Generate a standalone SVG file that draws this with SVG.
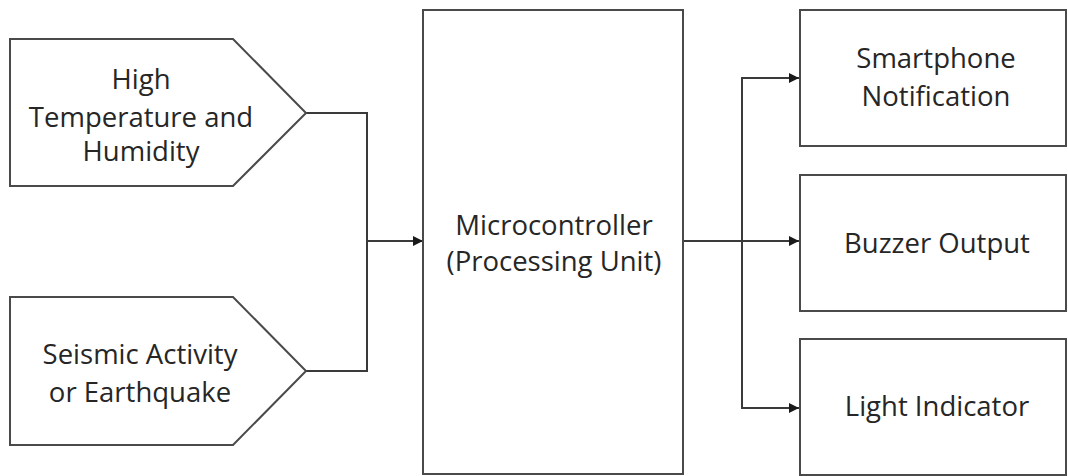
<svg xmlns="http://www.w3.org/2000/svg" width="1068" height="476" viewBox="0 0 1068 476">
  <style>
    .shape { fill: #ffffff; stroke: #4a4a4a; stroke-width: 2; }
    .wire { fill: none; stroke: #3a3a3a; stroke-width: 2; }
    .label { font-family: "Open Sans", "Liberation Sans", sans-serif; font-size: 27.5px; fill: #262626; text-anchor: middle; }
  </style>
  <defs>
    <marker id="arrow" viewBox="0 0 10 10" refX="10" refY="5" markerWidth="5" markerHeight="5" orient="auto" markerUnits="strokeWidth">
      <path d="M0,0 L10,5 L0,10 z" fill="#1a1a1a"/>
    </marker>
  </defs>
  <rect width="1068" height="476" fill="#ffffff"/>

  <g id="connectors">
    <polyline class="wire" points="306,113 367,113 367,371 306,371"/>
    <line class="wire" x1="367" y1="241" x2="423" y2="241" marker-end="url(#arrow)"/>
    <line class="wire" x1="683" y1="241" x2="799" y2="241" marker-end="url(#arrow)"/>
    <polyline class="wire" points="799,78 742,78 742,408 799,408"/>
    <line class="wire" x1="742" y1="78" x2="799" y2="78" marker-end="url(#arrow)"/>
    <line class="wire" x1="742" y1="408" x2="799" y2="408" marker-end="url(#arrow)"/>
  </g>

  <g id="input-temperature">
    <polygon class="shape" points="10,39 233,39 306,113 233,186 10,186"/>
    <text class="label" x="141" y="89">High</text>
    <text class="label" x="141" y="127">Temperature and</text>
    <text class="label" x="141" y="161">Humidity</text>
  </g>

  <g id="input-seismic">
    <polygon class="shape" points="10,297 233,297 306,371 233,445 10,445"/>
    <text class="label" x="140" y="364">Seismic Activity</text>
    <text class="label" x="140" y="402">or Earthquake</text>
  </g>

  <g id="microcontroller">
    <rect class="shape" x="423" y="10" width="260" height="464"/>
    <text class="label" x="554" y="235">Microcontroller</text>
    <text class="label" x="554" y="271">(Processing Unit)</text>
  </g>

  <g id="output-smartphone">
    <rect class="shape" x="800" y="10" width="266" height="136"/>
    <text class="label" x="936" y="68">Smartphone</text>
    <text class="label" x="936" y="106">Notification</text>
  </g>

  <g id="output-buzzer">
    <rect class="shape" x="800" y="175" width="266" height="136"/>
    <text class="label" x="937" y="253">Buzzer Output</text>
  </g>

  <g id="output-light">
    <rect class="shape" x="800" y="339" width="266" height="136"/>
    <text class="label" x="937" y="416">Light Indicator</text>
  </g>
</svg>
